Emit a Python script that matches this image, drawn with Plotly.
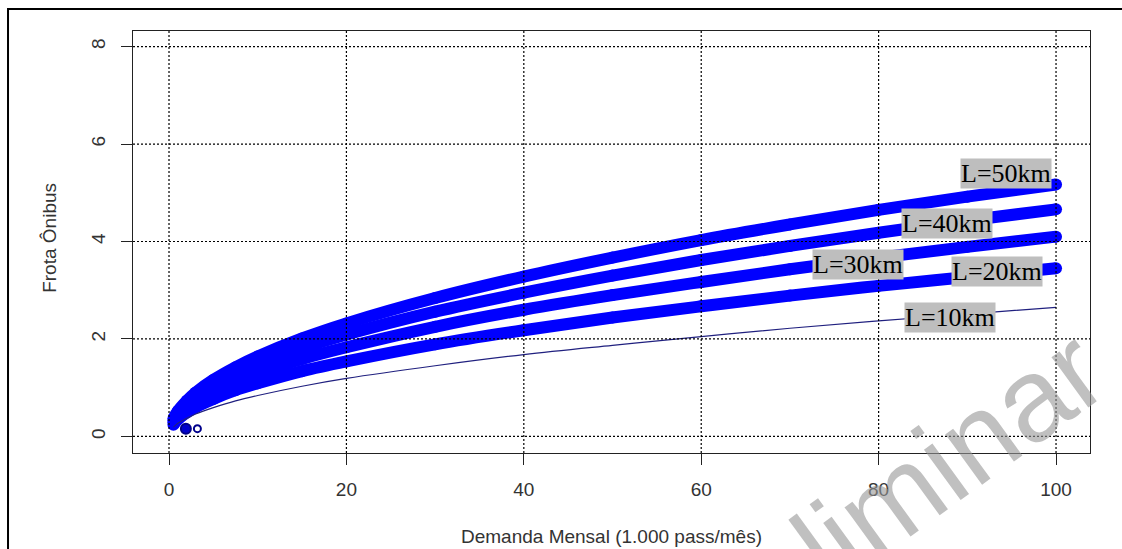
import plotly.graph_objects as go

# ---- data ----
demanda = [0.5, 1, 2, 3, 5, 7.5, 10, 15, 20, 30, 40, 50, 60, 70, 80, 90, 100]
frota_L50 = [0.37, 0.52, 0.73, 0.90, 1.16, 1.42, 1.64, 2.01, 2.32, 2.84, 3.28, 3.67, 4.03, 4.35, 4.65, 4.92, 5.17]
frota_L40 = [0.33, 0.47, 0.66, 0.81, 1.04, 1.28, 1.48, 1.81, 2.09, 2.56, 2.95, 3.30, 3.62, 3.91, 4.18, 4.43, 4.66]
frota_L30 = [0.29, 0.41, 0.58, 0.71, 0.92, 1.12, 1.30, 1.59, 1.83, 2.25, 2.60, 2.90, 3.17, 3.43, 3.67, 3.89, 4.10]
frota_L20 = [0.24, 0.35, 0.49, 0.60, 0.77, 0.95, 1.09, 1.34, 1.54, 1.89, 2.18, 2.44, 2.67, 2.89, 3.09, 3.27, 3.45]
frota_L10 = [0.19, 0.27, 0.37, 0.46, 0.59, 0.73, 0.84, 1.03, 1.19, 1.45, 1.68, 1.87, 2.05, 2.22, 2.37, 2.51, 2.65]

pontos_x = [1.9, 3.2]
pontos_y = [0.16, 0.16]

rotulos = ["L=50km", "L=40km", "L=30km", "L=20km", "L=10km"]
# label placement (data coords)
rotulo_x = [94.4, 87.7, 77.7, 93.4, 88.1]
rotulo_y = [5.39, 4.37, 3.53, 3.39, 2.44]

x_ticks = [0, 20, 40, 60, 80, 100]
y_ticks = [0, 2, 4, 6, 8]

BLUE = "#0000FF"
NAVY = "#20207F"

fig = go.Figure()

for serie in [frota_L50, frota_L40, frota_L30, frota_L20]:
    fig.add_trace(go.Scatter(
        x=demanda, y=serie, mode="lines+markers",
        line=dict(color=BLUE, width=12, shape="spline"),
        marker=dict(color=BLUE, size=12),
        showlegend=False, hoverinfo="skip"))

fig.add_trace(go.Scatter(
    x=demanda, y=frota_L10, mode="lines",
    line=dict(color=NAVY, width=1.2, shape="spline"),
    showlegend=False, hoverinfo="skip"))

fig.add_trace(go.Scatter(
    x=pontos_x, y=pontos_y, mode="markers",
    marker=dict(symbol=["circle", "circle-open"], size=[10, 7], opacity=1,
                color=["#0000CC", "#00008B"], line=dict(width=2, color="#00008B")),
    showlegend=False, hoverinfo="skip"))

# dotted grid drawn on top of the data (as R's grid())
shapes = []
for xv in x_ticks:
    shapes.append(dict(type="line", xref="x", yref="paper", x0=xv, x1=xv, y0=0, y1=1,
                       line=dict(color="black", width=1.2, dash="2px,2px"), layer="above"))
for yv in y_ticks:
    shapes.append(dict(type="line", xref="paper", yref="y", x0=0, x1=1, y0=yv, y1=yv,
                       line=dict(color="black", width=1.2, dash="2px,2px"), layer="above"))
# outer figure frame (cropped at right / bottom)
shapes.append(dict(type="rect", xref="paper", yref="paper",
                   x0=-0.1306, x1=1.04, y0=-0.25, y1=1.0521,
                   line=dict(color="black", width=2), layer="above"))

annotations = []
for t, xx, yy in zip(rotulos, rotulo_x, rotulo_y):
    annotations.append(dict(x=xx, y=yy, xref="x", yref="y", text=t, showarrow=False,
                            font=dict(family="Liberation Serif, Times New Roman, serif", size=26, color="black"),
                            bgcolor="#BEBEBE", borderpad=0, xanchor="center", yanchor="middle"))

axis_font = dict(family="Liberation Sans, Arial, sans-serif", size=19, color="#333333")
annotations.append(dict(x=0.5, y=-0.199, xref="paper", yref="paper",
                        text="Demanda Mensal (1.000 pass/mês)", showarrow=False,
                        font=axis_font, xanchor="center", yanchor="middle"))
annotations.append(dict(x=-0.0867, y=0.51, xref="paper", yref="paper",
                        text="Frota Ônibus", showarrow=False, textangle=-90,
                        font=axis_font, xanchor="center", yanchor="middle"))
# watermark
annotations.append(dict(x=0.775, y=-0.14, xref="paper", yref="paper",
                        text="Preliminar", showarrow=False, textangle=-36,
                        font=dict(family="Liberation Sans, Arial, sans-serif", size=118,
                                  color="rgba(150,150,150,0.6)"),
                        xanchor="center", yanchor="middle"))

fig.update_layout(
    width=1122, height=549,
    margin=dict(l=133, r=32, t=31, b=96, pad=0),
    paper_bgcolor="white", plot_bgcolor="white",
    shapes=shapes, annotations=annotations,
    xaxis=dict(range=[-4.06, 103.83], tickvals=x_ticks, ticktext=[str(v) for v in x_ticks],
               showgrid=False, zeroline=False, showline=True, mirror=True,
               linecolor="#222222", linewidth=1.3, ticks="outside", ticklen=11,
               tickcolor="#222222", tickwidth=1.3, tickfont=axis_font, ticklabelstandoff=8),
    yaxis=dict(range=[-0.34, 8.32], tickvals=y_ticks, ticktext=[str(v) for v in y_ticks],
               showgrid=False, zeroline=False, showline=True, mirror=True,
               linecolor="#222222", linewidth=1.3, ticks="outside", ticklen=11,
               tickcolor="#222222", tickwidth=1.3, tickfont=axis_font, tickangle=-90,
               ticklabelstandoff=8),
)

fig.write_html("out.html", config={"displayModeBar": False},
               post_script="document.body.style.margin='0';document.body.style.overflow='hidden';")
